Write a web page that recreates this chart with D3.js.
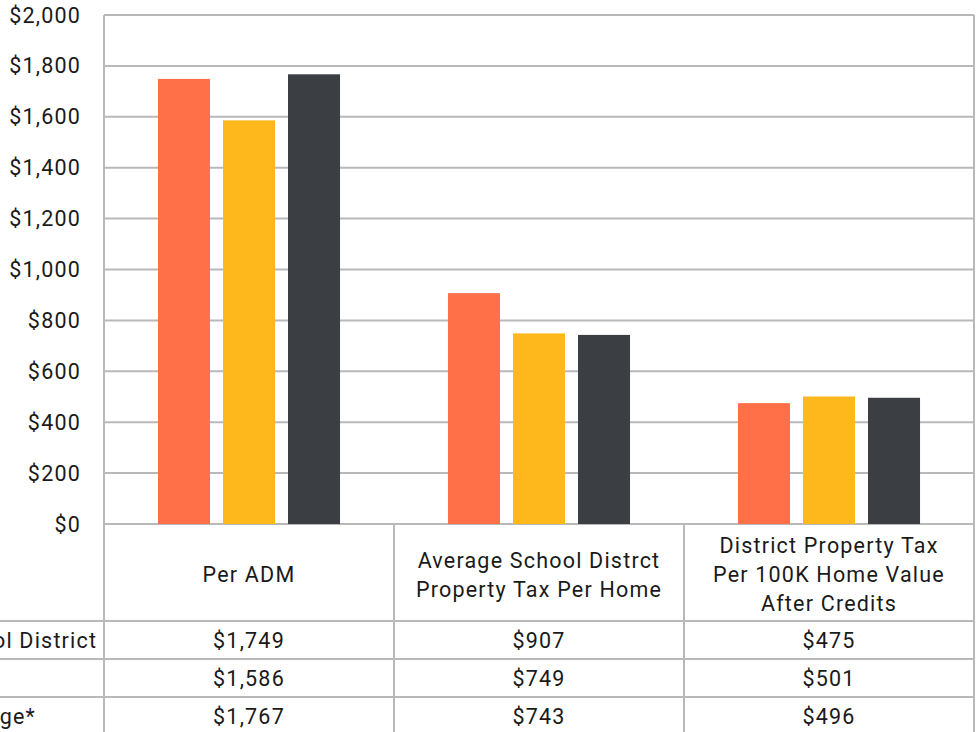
<!doctype html>
<html lang="en">
<head>
<meta charset="UTF-8">
<title>Per ADM and property tax comparison</title>
<script src="https://d3js.org/d3.v7.min.js"></script>
<style>
  body { margin: 0; background: #fff; overflow: hidden; }
  svg text { font-family: Roboto, sans-serif; fill: #1a1a1a; letter-spacing: 1.2px; }
</style>
</head>
<body>
<script>
// categories + series (row labels are cropped at the left edge in the original)
const categories = [
  ["Per ADM"],
  ["Average School Distrct", "Property Tax Per Home"],
  ["District Property Tax", "Per 100K Home Value", "After Credits"]
];
const seriesNames = ["School District", "State", "Average*"];
const seriesColors = ["#ff7048", "#ffb81c", "#3b3f43"];
const seriesValues = [
  [1749, 907, 475],
  [1586, 749, 501],
  [1767, 743, 496]
];
const yTicks = [0, 200, 400, 600, 800, 1000, 1200, 1400, 1600, 1800, 2000];

const width = 976, height = 732;
const plot = {left: 104, right: 974, top: 15, bottom: 524};
const headerH = 97, rowH = 38;
const grid = "#b9b9b9";
const fs = 21.5;

const svg = d3.select("body").append("svg")
  .attr("width", width)
  .attr("height", height);

const x0 = d3.scaleBand()
  .domain(d3.range(categories.length))
  .range([plot.left, plot.right]);

const x1 = d3.scaleBand()
  .domain(d3.range(seriesNames.length))
  .range([0, x0.bandwidth()])
  .paddingInner(0.2)
  .paddingOuter(0.83);

const y = d3.scaleLinear()
  .domain([0, 2000])
  .range([plot.bottom, plot.top]);

const fmt = v => "$" + d3.format(",")(v);

// gridlines
svg.append("g").selectAll("line")
  .data(yTicks)
  .enter().append("line")
  .attr("x1", plot.left).attr("x2", plot.right)
  .attr("y1", d => y(d)).attr("y2", d => y(d))
  .attr("stroke", grid).attr("stroke-width", 2);

// y axis labels
svg.append("g").selectAll("text")
  .data(yTicks)
  .enter().append("text")
  .attr("x", 81)
  .attr("y", d => y(d))
  .attr("dy", "0.35em")
  .attr("text-anchor", "end")
  .attr("font-size", fs)
  .text(fmt);

// bars
const groups = svg.append("g").selectAll("g")
  .data(categories)
  .enter().append("g")
  .attr("transform", (d, i) => `translate(${x0(i)},0)`);

groups.selectAll("rect")
  .data((d, ci) => seriesValues.map((s, si) => ({si: si, v: s[ci]})))
  .enter().append("rect")
  .attr("x", d => x1(d.si))
  .attr("width", x1.bandwidth())
  .attr("y", d => y(d.v))
  .attr("height", d => y(0) - y(d.v))
  .attr("fill", d => seriesColors[d.si]);

// plot frame
svg.append("line")
  .attr("x1", plot.left).attr("x2", plot.left)
  .attr("y1", plot.top).attr("y2", height)
  .attr("stroke", grid).attr("stroke-width", 2);
svg.append("line")
  .attr("x1", plot.right).attr("x2", plot.right)
  .attr("y1", plot.top).attr("y2", height)
  .attr("stroke", grid).attr("stroke-width", 2);

// data table
const tableTop = plot.bottom;
const rowTop = i => tableTop + headerH + i * rowH;

// vertical dividers
svg.append("g").selectAll("line")
  .data(d3.range(1, categories.length))
  .enter().append("line")
  .attr("x1", i => x0(i)).attr("x2", i => x0(i))
  .attr("y1", tableTop).attr("y2", height)
  .attr("stroke", grid).attr("stroke-width", 2);

// horizontal rules
svg.append("g").selectAll("line")
  .data(d3.range(seriesNames.length))
  .enter().append("line")
  .attr("x1", 0).attr("x2", plot.right)
  .attr("y1", i => rowTop(i)).attr("y2", i => rowTop(i))
  .attr("stroke", grid).attr("stroke-width", 2);

// header text
groups.each(function(lines) {
  const cx = x0.bandwidth() / 2;
  const midY = tableTop + headerH / 2 + 2;
  const lh = 29;
  d3.select(this).selectAll("text.hdr")
    .data(lines)
    .enter().append("text")
    .attr("class", "hdr")
    .attr("x", cx)
    .attr("y", (d, i) => midY + (i - (lines.length - 1) / 2) * lh)
    .attr("dy", "0.35em")
    .attr("text-anchor", "middle")
    .attr("font-size", fs)
    .text(d => d);
});

// value cells
seriesValues.forEach((vals, si) => {
  svg.append("g").selectAll("text")
    .data(vals)
    .enter().append("text")
    .attr("x", (d, ci) => x0(ci) + x0.bandwidth() / 2)
    .attr("y", rowTop(si) + rowH / 2)
    .attr("dy", "0.35em")
    .attr("text-anchor", "middle")
    .attr("font-size", fs)
    .text(fmt);
});

// row labels (run off the left edge like the original crop)
svg.append("g").selectAll("text")
  .data(seriesNames)
  .enter().append("text")
  .attr("x", -60)
  .attr("y", (d, i) => rowTop(i) + rowH / 2)
  .attr("dy", "0.35em")
  .attr("font-size", fs)
  .text(d => d);
</script>
</body>
</html>
